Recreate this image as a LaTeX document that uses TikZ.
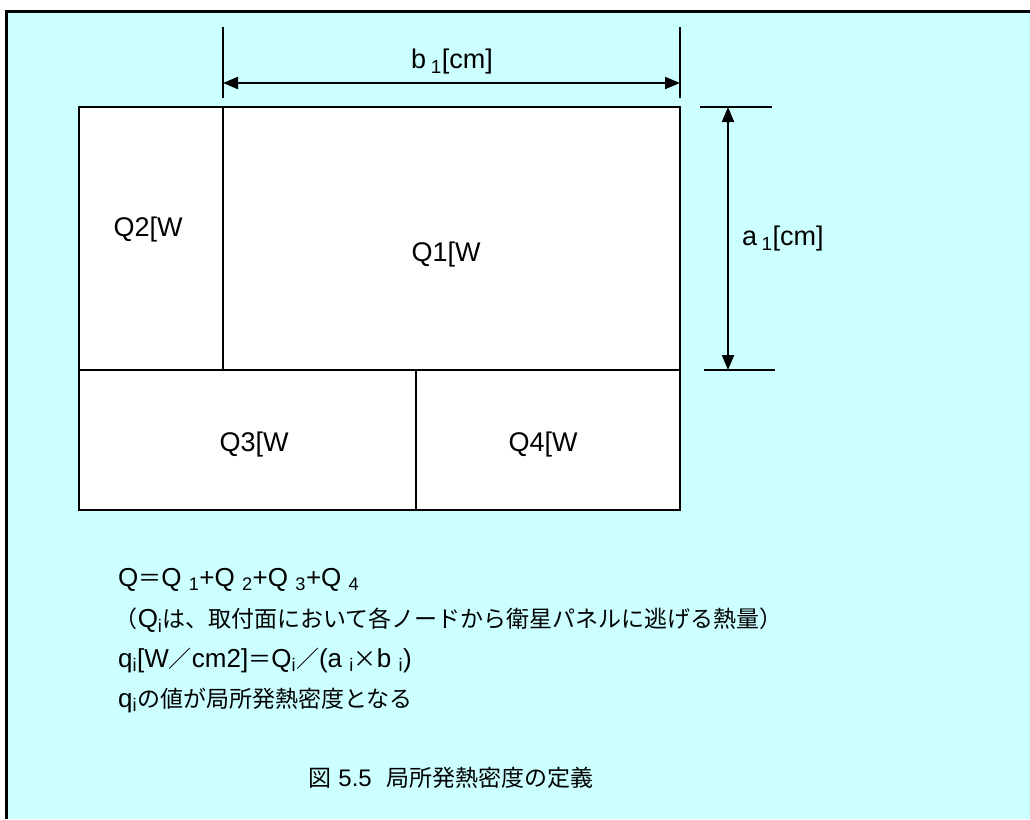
\documentclass[tikz,border=0pt]{standalone}
\usepackage{fontspec}
\setmainfont{Liberation Sans}
\newfontfamily\jp{Noto Sans CJK JP}
\usetikzlibrary{arrows.meta, positioning}
\definecolor{panelcolor}{RGB}{204, 255, 255}
\newcommand{\idx}[1]{\textsubscript{#1}}
\newcommand{\ja}[1]{{\jp\fontsize{23}{27}\selectfont #1}}

\tikzset{
    cellline/.style={line width=2pt},
    extline/.style={line width=1.3pt},
    dimarrow/.style={line width=2pt, {Triangle[length=15pt, width=12pt]}-{Triangle[length=15pt, width=12pt]}},
    celltext/.style={font=\fontsize{27}{31}\selectfont},
    bodytext/.style={anchor=west, font=\fontsize{26}{30}\selectfont, inner sep=0pt}
}

\begin{document}
\begin{tikzpicture}[x=1pt, y=-1pt]
    \useasboundingbox (0, 0) rectangle (1030, 819);
    \fill[white] (0, 0) rectangle (1030, 819);

    % Panel
    \fill[panelcolor] (6, 11) rectangle (1030, 819);
    \draw[line width=3pt] (1030, 11) -- (6, 11) -- (6, 819);

    % Cells
    \filldraw[cellline, fill=white] (79, 107) rectangle (680, 510);
    \draw[cellline] (79, 370) -- (680, 370);
    \draw[cellline] (223, 107) -- (223, 370);
    \draw[cellline] (416, 370) -- (416, 510);

    \node[celltext] (q1) at (446, 255) {Q1[W};
    \node[celltext] (q2) at (148, 230) {Q2[W};
    \node[celltext] (q3) at (254, 445) {Q3[W};
    \node[celltext] (q4) at (543, 445) {Q4[W};

    % Width b1
    \coordinate (btopl) at (223, 27);
    \coordinate (bbotl) at (223, 98);
    \coordinate (btopr) at (680, 27);
    \coordinate (bbotr) at (680, 98);
    \coordinate (barrl) at (223, 83);
    \coordinate (barrr) at (680, 83);
    \draw[extline] (btopl) -- (bbotl);
    \draw[extline] (btopr) -- (bbotr);
    \draw[dimarrow] (barrl) -- (barrr);
    \node[celltext] (blabel) at (452, 62) {b\,\idx{1}[cm]};

    % Height a1
    \coordinate (atopl) at (700, 107);
    \coordinate (atopr) at (772, 107);
    \coordinate (abotl) at (704, 370);
    \coordinate (abotr) at (775, 370);
    \coordinate (aarrt) at (728, 107);
    \coordinate (aarrb) at (728, 370);
    \draw[extline] (atopl) -- (atopr);
    \draw[extline] (abotl) -- (abotr);
    \draw[dimarrow] (aarrt) -- (aarrb);
    \node[celltext, anchor=west, inner sep=0pt] (alabel) at (742, 239) {a\,\idx{1}[cm]};

    % Definitions
    \node[bodytext] (sumline) at (118, 580) {Q\ja{＝}Q\ \idx{1}+Q\ \idx{2}+Q\ \idx{3}+Q\ \idx{4}};
    \node[bodytext] (noteline) at (118, 620) {\ja{\kern-0.15em（}Q\idx{i}\ja{は、取付面において各ノードから衛星パネルに逃げる熱量）}};
    \node[bodytext] (densline) at (118, 660) {q\idx{i}[W\ja{／}cm2]\ja{＝}Q\idx{i}\ja{／}(a\ \idx{i}\ja{×}b\ \idx{i})};
    \node[bodytext] (resline) at (118, 700) {q\idx{i}\ja{の値が局所発熱密度となる}};

    % Caption
    \node[font=\fontsize{24}{28}\selectfont] (caption) at (451, 778) {\ja{図} 5.5\hspace{0.6em}\ja{局所発熱密度の定義}};
\end{tikzpicture}
\end{document}
